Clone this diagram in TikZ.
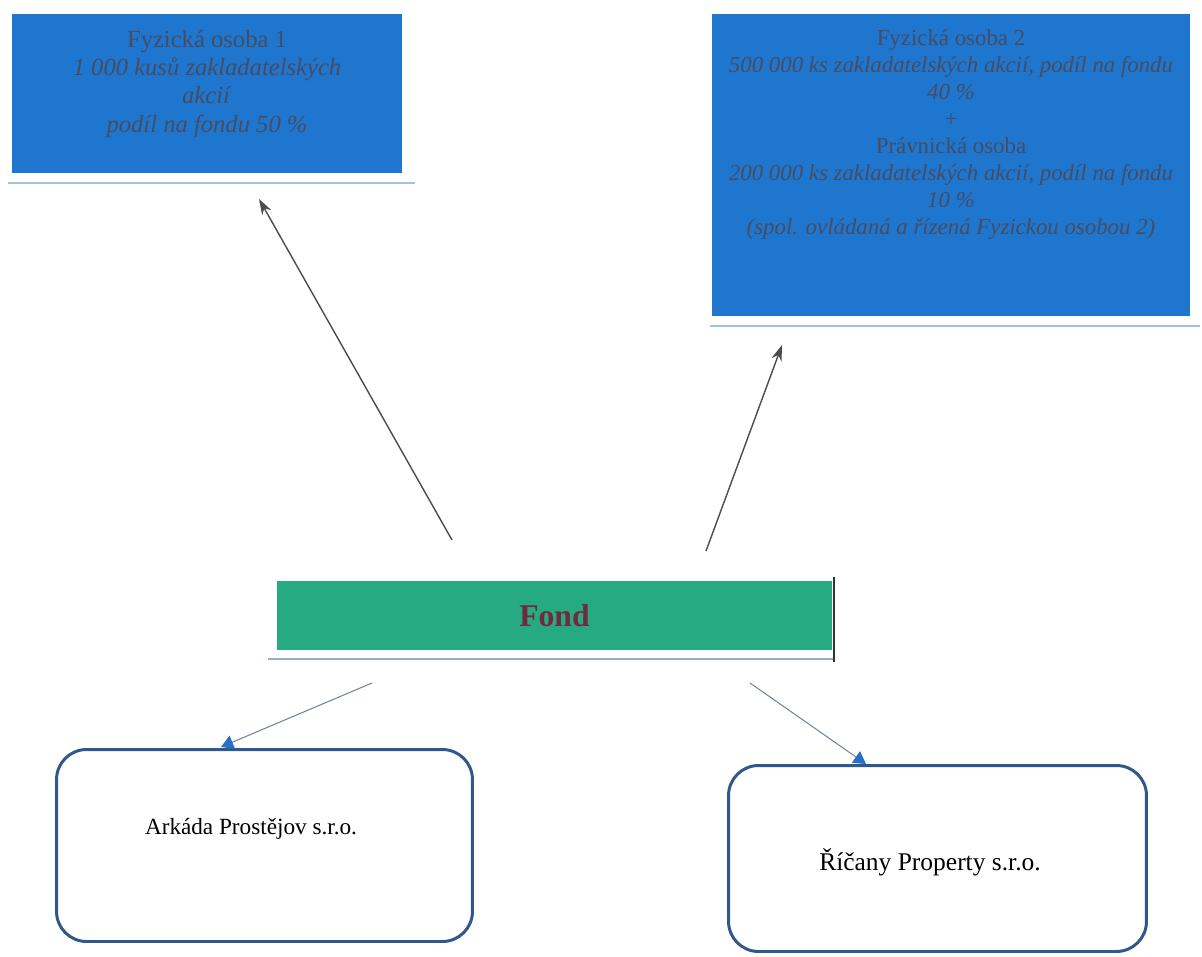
\documentclass[tikz,border=0pt]{standalone}
\usepackage{fontspec}
\setmainfont{Liberation Serif}
\usetikzlibrary{positioning,arrows.meta}
\definecolor{boxblue}{RGB}{30,118,206}
\definecolor{fondgreen}{RGB}{38,170,128}
\definecolor{fondred}{RGB}{112,42,64}
\definecolor{boxtext}{RGB}{72,76,96}
\definecolor{edgeblue}{RGB}{48,88,140}
\definecolor{rulelight}{RGB}{160,196,222}
\definecolor{tipblue}{RGB}{38,112,200}
\definecolor{linkgray}{RGB}{115,132,152}

\begin{document}
\begin{tikzpicture}[x = 0.02cm, y = -0.02cm,
		bluebox/.style = {fill=boxblue, inner sep=0pt},
		bluetext/.style = {text=boxtext, align=center, inner sep=0pt},
		firmbox/.style = {draw=edgeblue, line width=1.7pt, rounded corners=0.6cm, inner sep=0pt},
		up/.style = {draw=black!70, line width=0.8pt, -{Stealth[length=9pt, width=6pt]}},
		down/.style = {draw=linkgray, line width=0.6pt, -{Triangle[color=tipblue, length=7pt, width=8pt]}}]
		\useasboundingbox (0,0) rectangle (1202,956);
		% owners
		\node[bluebox, minimum width=7.8cm, minimum height=3.18cm] (fo1) at (207,93.5) {};
		\node[bluetext, font=\fontsize{14}{16}\selectfont] (fo1text) at (207,84) {Fyzická osoba 1\\ \textit{1 000 kusů zakladatelských}\\ \textit{akcií}\\ \textit{podíl na fondu 50 \%}};
		\draw[rulelight, line width=1.5pt] (8,183) -- (415,183);
		\node[bluebox, minimum width=9.56cm, minimum height=6.04cm] (fo2) at (951,165) {};
		\node[bluetext, font=\fontsize{13}{15.3}\selectfont] (fo2text) at (951,134.5) {Fyzická osoba 2\\ \textit{500 000 ks zakladatelských akcií, podíl na fondu}\\ \textit{40 \%}\\ +\\ Právnická osoba\\ \textit{200 000 ks zakladatelských akcií, podíl na fondu}\\ \textit{10 \%}\\ \textit{(spol. ovládaná a řízená Fyzickou osobou 2)}};
		\draw[rulelight, line width=1.5pt] (710,326) -- (1200,326);
		% fund
		\node[fill=fondgreen, minimum width=11.1cm, minimum height=1.38cm, text=fondred, font=\fontsize{18}{20}\selectfont\bfseries] (fond) at (554.5,615.5) {Fond};
		\draw[rulelight!70!gray, line width=1pt] (268,659) -- (835,659);
		\draw[black!80, line width=0.8pt] (834,577) -- (834,662);
		% companies
		\node[firmbox, minimum width=8.32cm, minimum height=3.84cm] (arkada) at (264.5,845.5) {};
		\node[font=\fontsize{13.2}{15}\selectfont] (arkadatext) at (251,829) {Arkáda Prostějov s.r.o.};
		\node[firmbox, minimum width=8.36cm, minimum height=3.72cm] (ricany) at (937.5,858.5) {};
		\node[font=\fontsize{14.5}{16}\selectfont] (ricanytext) at (930,862) {Říčany Property s.r.o.};
		% connectors
		\coordinate (fondL) at (452,540);
		\coordinate (fondR) at (706,551);
		\coordinate (fo1tip) at (259,199);
		\coordinate (fo2tip) at (782,345);
		\draw[up] (fondL) -- (fo1tip);
		\draw[up] (fondR) -- (fo2tip);
		\coordinate (fondBL) at (372,683);
		\coordinate (fondBR) at (750,683);
		\coordinate (arkadatip) at (221,747);
		\coordinate (ricanytip) at (866,764);
		\draw[down] (fondBL) -- (arkadatip);
		\draw[down] (fondBR) -- (ricanytip);
	\end{tikzpicture}
\end{document}
